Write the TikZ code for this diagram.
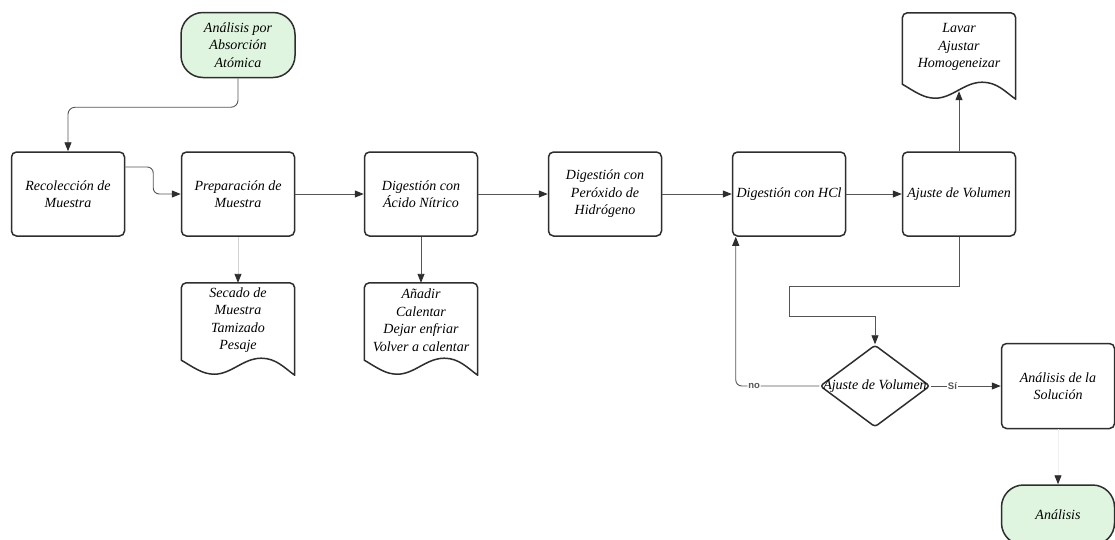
\documentclass[tikz,border=0pt]{standalone}
\usepackage{fontspec}
\setmainfont{Liberation Serif}
\newfontfamily\lblfont{Liberation Sans}
\usetikzlibrary{shapes.geometric,arrows.meta,calc}
\definecolor{edgec}{HTML}{2E2E2E}
\definecolor{connc}{HTML}{555555}
\definecolor{termfill}{HTML}{DFF5DF}
\newcommand\docshape[1]{%
  \draw[edgec, line width=1.5pt, fill=white, line join=round]
    ($(#1.south west)+(0,-15)$) [rounded corners=5pt] -- (#1.north west) -- (#1.north east)
    [sharp corners] -- (#1.south east)
    .. controls +(-10,-7) and +(15,0) .. ($(#1.south west)+(80,-17)$)
    .. controls +(-18,0) and +(17,0) .. ($(#1.south west)+(33,-1)$)
    .. controls +(-12,0) and +(12,7) .. ($(#1.south west)+(0,-15)$) -- cycle;}
\begin{document}
\begin{tikzpicture}[x=1pt,y=-1pt,
  txt/.style={align=center, font=\itshape\fontsize{14}{17.5}\selectfont},
  box/.style={txt, draw=edgec, line width=1.5pt, rounded corners=5pt, minimum width=113pt, minimum height=84pt, inner sep=2pt, fill=white},
  term/.style={box, fill=termfill, rounded corners=22pt},
  docbox/.style={minimum width=113pt, minimum height=92pt, inner sep=0pt},
  conn/.style={draw=connc, line width=0.9pt, -{Triangle[length=9pt,width=7pt,color=edgec]}},
  lbl/.style={font=\lblfont\bfseries\fontsize{9.5}{10}\selectfont, fill=white, inner sep=1pt, text=connc}
]
\path[use as bounding box] (0,0) rectangle (1115,539);
\clip (0,0) rectangle (1115,539);
\fill[white] (0,0) rectangle (1115,539);

% terminals
\node[term, minimum height=65pt, minimum width=114pt] (start) at (238,45) {Análisis por\\Absorción\\Atómica};
\node[term, minimum height=60pt] (fin) at (1058,515) {Análisis};

% process boxes
\node[box] (rec) at (68,194) {Recolección de\\Muestra};
\node[box] (prep) at (238,194) {Preparación de\\Muestra};
\node[box] (nit) at (421,194) {Digestión con\\Ácido Nítrico};
\node[box] (per) at (605,194) {Digestión con\\Peróxido de\\Hidrógeno};
\node[box] (hcl) at (789,194) {Digestión con HCl};
\node[box] (adj) at (959,194) {Ajuste de Volumen};
\node[box, minimum height=85pt] (sol) at (1058,386) {Análisis de la\\Solución};

% documents
\node[docbox] (sec) at (238,329) {};
\docshape{sec}
\node[txt] (sect) at (238,320) {Secado de\\Muestra\\Tamizado\\Pesaje};
\node[docbox] (ana) at (421,329) {};
\docshape{ana}
\node[txt] (anat) at (421,320) {Añadir\\Calentar\\Dejar enfriar\\Volver a calentar};
\node[docbox, minimum height=86pt] (lav) at (959,56) {};
\docshape{lav}
\node[txt] (lavt) at (959,47) {Lavar\\Ajustar\\Homogeneizar};

% decision
\node[diamond, draw=edgec, line width=1.5pt, rounded corners=3pt, minimum width=110pt, minimum height=82pt, inner sep=0pt, fill=white] (dec) at (875,386) {};
\node[txt] (dect) at (dec) {Ajuste de Volumen};

% connectors
\draw[conn, rounded corners=7pt] (start.south) -- ++(0,29) -| (rec.north);
\draw[conn, rounded corners=6pt] ([yshift=27pt]rec.east) -- ++(28,0) |- (prep.west);
\draw[conn] (prep.east) -- (nit.west);
\draw[conn, draw=black!18] (prep.south) -- (sec.north);
\draw[conn] (nit.south) -- (ana.north);
\draw[conn] (nit.east) -- (per.west);
\draw[conn] (per.east) -- (hcl.west);
\draw[conn] (hcl.east) -- (adj.west);
\draw[conn] (adj.north) -- ([yshift=8pt]lav.south);
\draw[conn] (adj.south) -- ++(0,50) -- ++(-170,0) -- ++(0,30) -| (dec.north);
\draw[conn, rounded corners=6pt] (dec.west) -| ([xshift=4pt]hcl.south west)
  node[lbl, pos=0.39] (no) {no};
\draw[conn] (dec.east) -- (sol.west) node[lbl, pos=0.31] (si) {Sí};
\draw[conn, draw=black!6] (sol.south) -- (fin.north);
\end{tikzpicture}
\end{document}
